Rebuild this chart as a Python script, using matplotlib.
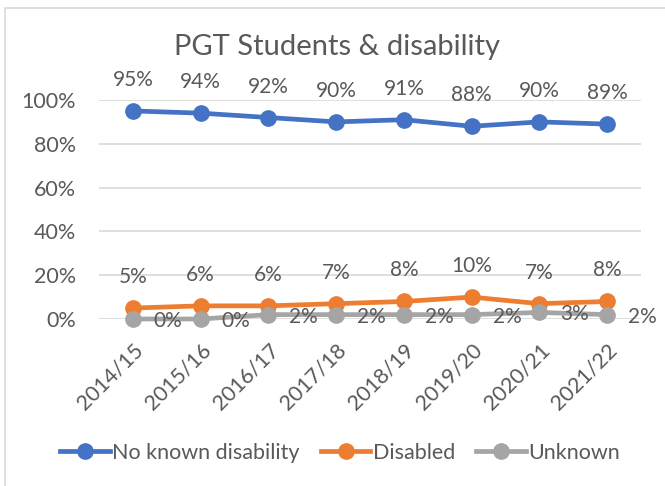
import matplotlib.pyplot as plt
from matplotlib.patches import Rectangle

years = ['2014/15', '2015/16', '2016/17', '2017/18', '2018/19', '2019/20', '2020/21', '2021/22']
no_known = [95, 94, 92, 90, 91, 88, 90, 89]
disabled = [5, 6, 6, 7, 8, 10, 7, 8]
unknown = [0, 0, 2, 2, 2, 2, 3, 2]

blue = '#4472C4'
orange = '#ED7D31'
grey = '#A5A5A5'
txt = '#595959'

plt.rcParams['font.family'] = ['Lato', 'DejaVu Sans']

fig = plt.figure(figsize=(6.65, 4.86), dpi=100)
fig.patches.append(Rectangle((5 / 665, -0.1), 1.2, 1 - 8 / 486 + 0.1, transform=fig.transFigure,
                             fill=False, edgecolor='#D9D9D9', linewidth=1.2))
ax = fig.add_axes([99 / 665, 1 - 319 / 486, 542 / 665, 219 / 486])

x = list(range(len(years)))
ax.plot(x, no_known, color=blue, lw=3.4, marker='o', ms=11, label='No known disability', zorder=3)
ax.plot(x, disabled, color=orange, lw=3.4, marker='o', ms=11, label='Disabled', zorder=3)
ax.plot(x, unknown, color=grey, lw=3.4, marker='o', ms=11, label='Unknown', zorder=3)

for i in x:
    ax.annotate(f'{no_known[i]}%', (i, no_known[i]), xytext=(0, 31), textcoords='offset pixels',
                ha='center', va='center', fontsize=15, color=txt)
    ax.annotate(f'{disabled[i]}%', (i, disabled[i]), xytext=(0, 31), textcoords='offset pixels',
                ha='center', va='center', fontsize=15, color=txt)
    ax.annotate(f'{unknown[i]}%', (i, unknown[i]), xytext=(21, -2), textcoords='offset pixels',
                ha='left', va='center', fontsize=15, color=txt)

ax.set_xlim(-0.5, 7.5)
ax.set_ylim(0, 100)
ax.set_yticks([0, 20, 40, 60, 80, 100])
ax.set_yticklabels([f'{v}%' for v in [0, 20, 40, 60, 80, 100]])
ax.set_xticks(x)
ax.set_xticklabels(years, rotation=45, ha='right', rotation_mode='anchor')
ax.tick_params(length=0, labelsize=15.5, labelcolor=txt)
ax.tick_params(axis='x', pad=15)
ax.tick_params(axis='y', pad=16.5)
ax.grid(axis='y', color='#D9D9D9', lw=1.2)
ax.set_axisbelow(True)
for s in ax.spines.values():
    s.set_visible(False)
for ln in ax.lines:
    ln.set_clip_on(False)

fig.text(337 / 665, 1 - 47 / 486, 'PGT Students & disability', ha='center', va='center',
         fontsize=21, color=txt)
fig.legend(loc='center', bbox_to_anchor=(340 / 665, 1 - 453 / 486), ncol=3, frameon=False,
           fontsize=15.5, labelcolor=txt, handlelength=2.3, handletextpad=0.1, columnspacing=1.0)

fig.savefig('out.png', dpi=100)
